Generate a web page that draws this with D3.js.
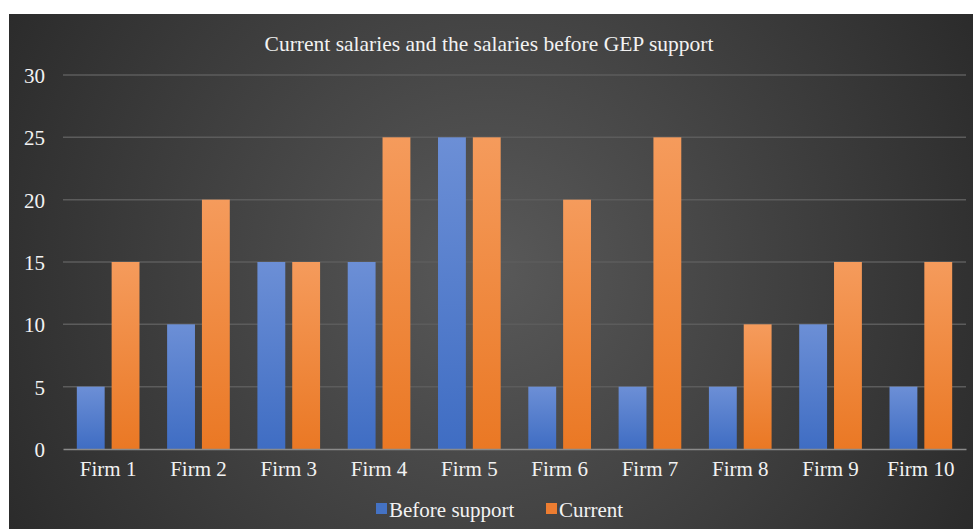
<!DOCTYPE html>
<html><head><meta charset="utf-8">
<script src="https://cdn.jsdelivr.net/npm/d3@7"></script>
<style>html,body{margin:0;padding:0;background:#fff;}svg{display:block;}</style>
</head><body>
<svg id="chart" width="973" height="529"></svg>
<script>
const categories = ["Firm 1","Firm 2","Firm 3","Firm 4","Firm 5","Firm 6","Firm 7","Firm 8","Firm 9","Firm 10"];
const beforeSupport = [5,10,15,15,25,5,5,5,10,5];
const current = [15,20,15,25,25,20,25,10,15,15];
const seriesNames = ["Before support","Current"];
const yTicks = [0,5,10,15,20,25,30];
const title = "Current salaries and the salaries before GEP support";

const svg = d3.select("#chart");
const W = 973, H = 529;
const font = "'Liberation Serif','Times New Roman',serif";
const fs = 21;
const defs = svg.append("defs");
const bg = defs.append("radialGradient").attr("id","bg").attr("gradientUnits","userSpaceOnUse")
  .attr("cx",490).attr("cy",270).attr("r",560);
bg.append("stop").attr("offset","0%").attr("stop-color","#595959");
bg.append("stop").attr("offset","100%").attr("stop-color","#2a2a2a");
function barGrad(id, top, bottom){
  const g = defs.append("linearGradient").attr("id",id).attr("x1",0).attr("y1",0).attr("x2",0).attr("y2",1);
  g.append("stop").attr("offset","0%").attr("stop-color",top);
  g.append("stop").attr("offset","100%").attr("stop-color",bottom);
}
barGrad("gb","#6c8fd6","#3f6dc3");
barGrad("go","#f59b5c","#ea7824");

svg.append("rect").attr("x",9).attr("y",14).attr("width",W-9).attr("height",H-14).attr("fill","url(#bg)");

svg.append("text").attr("x",489).attr("y",51).attr("text-anchor","middle")
  .attr("fill","#f2f2f2").attr("font-family",font).attr("font-size",21.5).text(title);

const x0 = d3.scaleBand().domain(categories).range([63,966]).paddingInner(0.306).paddingOuter(0.153);
const x1 = d3.scaleBand().domain(seriesNames).range([0,x0.bandwidth()]).paddingInner(0.2);
const y = d3.scaleLinear().domain([0,30]).range([449,75]);

// gridlines
svg.append("g").selectAll("line").data(yTicks.filter(d=>d>0)).join("line")
  .attr("x1",63).attr("x2",966).attr("y1",d=>y(d)).attr("y2",d=>y(d))
  .attr("stroke","#5c5c5c").attr("stroke-width",1.5);

// y axis labels
const yAxis = svg.append("g").attr("transform","translate(55,0)")
  .call(d3.axisLeft(y).tickValues(yTicks).tickSize(0).tickPadding(0));
yAxis.select(".domain").remove();
yAxis.selectAll("text").attr("fill","#f2f2f2").attr("font-family",font).attr("font-size",fs).attr("x",-10).attr("dy","0.35em");

// bars
const data = categories.map((c,i)=>({c, vals:[{s:seriesNames[0],v:beforeSupport[i]},{s:seriesNames[1],v:current[i]}]}));
const grp = svg.append("g").selectAll("g").data(data).join("g")
  .attr("transform",d=>`translate(${x0(d.c)},0)`);
grp.selectAll("rect").data(d=>d.vals).join("rect")
  .attr("x",d=>x1(d.s)).attr("width",x1.bandwidth())
  .attr("y",d=>y(d.v)).attr("height",d=>y(0)-y(d.v))
  .attr("fill",d=>d.s===seriesNames[0]?"url(#gb)":"url(#go)");

// x axis
const xAxis = svg.append("g").attr("transform",`translate(0,${y(0)})`)
  .call(d3.axisBottom(x0).tickSize(0).tickPadding(12));
xAxis.select(".domain").attr("stroke","#8a8a8a").attr("stroke-width",1.5);
xAxis.selectAll("text").attr("fill","#f2f2f2").attr("font-family",font).attr("font-size",fs);

// legend
const leg = svg.append("g");
const legItems = [{n:seriesNames[0],c:"#4472c4",x:376},{n:seriesNames[1],c:"#ed7d31",x:546}];
legItems.forEach(it=>{
  leg.append("rect").attr("x",it.x).attr("y",503).attr("width",11).attr("height",11).attr("fill",it.c);
  leg.append("text").attr("x",it.x+13).attr("y",517).attr("fill","#f2f2f2")
    .attr("font-family",font).attr("font-size",fs).text(it.n);
});
</script>
</body></html>
